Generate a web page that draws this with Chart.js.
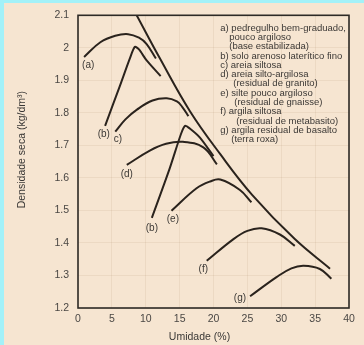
<!DOCTYPE html>
<html><head><meta charset="utf-8">
<script src="https://cdn.jsdelivr.net/npm/chart.js@4"></script>
<style>
html,body{margin:0;padding:0;background:#A3F1F8;}
#wrap{position:absolute;left:0;top:0;width:364px;height:345px;}
canvas{display:block;}
</style></head><body>
<div id="wrap"><canvas id="c" width="364" height="345"></canvas></div>
<script>
// ---- data ----
const xTickValues = [0, 5, 10, 15, 20, 25, 30, 35, 40];
const yTickValues = [1.2, 1.3, 1.4, 1.5, 1.6, 1.7, 1.8, 1.9, 2.0, 2.1];

const aX = [0.9, 3.3, 5.5, 7.4, 9.0, 10.1, 11.5];
const aY = [1.972, 2.017, 2.037, 2.042, 2.031, 2.012, 1.967];

const b1X = [4.0, 6.2, 7.7, 8.4, 9.0, 10.1, 12.2];
const b1Y = [1.760, 1.884, 1.970, 2.003, 1.995, 1.962, 1.913];

const cX = [5.5, 7.0, 8.7, 11.0, 13.1, 14.6, 15.4, 16.3];
const cY = [1.742, 1.780, 1.810, 1.838, 1.845, 1.835, 1.818, 1.790];

const b2X = [10.9, 13.5, 15.2, 15.8, 16.5, 18.0, 20.0];
const b2Y = [1.477, 1.627, 1.735, 1.760, 1.752, 1.724, 1.667];

const dX = [7.2, 10.6, 13.0, 15.5, 18.5, 20.5];
const dY = [1.640, 1.684, 1.705, 1.711, 1.694, 1.642];

const eX = [13.8, 17.5, 19.5, 21.0, 23.9, 25.6];
const eY = [1.499, 1.568, 1.589, 1.595, 1.563, 1.525];

const fX = [19.0, 22.9, 25.0, 27.1, 29.8, 32.0];
const fY = [1.345, 1.411, 1.437, 1.445, 1.426, 1.391];

const gX = [25.4, 29.3, 31.5, 33.3, 35.7, 37.4];
const gY = [1.236, 1.295, 1.322, 1.330, 1.320, 1.290];

const satX = [8.66, 12.1, 16.5, 21.0, 25.7, 32.0, 37.2];
const satY = [2.10, 1.967, 1.806, 1.673, 1.548, 1.412, 1.321];

const curveLabels = ["(a)", "(b)", "c)", "(d)", "(b)", "(e)", "(f)", "(g)"];
const curveLabelX = [1.5, 3.8, 5.9, 7.2, 10.9, 14.0, 18.5, 23.9];
const curveLabelY = [1.945, 1.733, 1.718, 1.612, 1.445, 1.473, 1.318, 1.230];

const legendLines = [
  "a) pedregulho bem-graduado,",
  "pouco argiloso",
  "(base estabilizada)",
  "b) solo arenoso laterítico fino",
  "c) areia siltosa",
  "d) areia silto-argilosa",
  "(residual de granito)",
  "e) silte pouco argiloso",
  "(residual de gnaisse)",
  "f) argila siltosa",
  "(residual de metabasito)",
  "g) argila residual de basalto",
  "(terra roxa)"
];
const legendIndent = [0, 9, 9, 0, 0, 0, 13, 0, 14, 0, 16, 0, 11];

const xTitle = "Umidade (%)";
const yTitle = "Densidade seca (kg/dm\u00B3)";

// ---- build datasets ----
const toPts = (xs, ys) => xs.map((x, i) => ({x: x, y: ys[i]}));
const LINE = '#2a231d';
const mk = (xs, ys, t) => ({
  data: toPts(xs, ys), showLine: true, borderColor: LINE, borderWidth: 2,
  pointRadius: 0, tension: t, fill: false
});
const datasets = [
  mk(aX, aY, 0.4), mk(b1X, b1Y, 0.25), mk(cX, cY, 0.4), mk(b2X, b2Y, 0.25),
  mk(dX, dY, 0.4), mk(eX, eY, 0.4), mk(fX, fY, 0.4), mk(gX, gY, 0.4),
  mk(satX, satY, 0.4)
];

const FONT = '"Liberation Sans", Arial, sans-serif';

const deco = {
  id: 'deco',
  beforeDraw(chart) {
    const ctx = chart.ctx;
    ctx.save();
    ctx.fillStyle = '#F6E5D1';
    ctx.fillRect(4, 3, chart.width - 4, chart.height - 3);
    ctx.restore();
  },
  afterDatasetsDraw(chart) {
    const ctx = chart.ctx, a = chart.chartArea;
    ctx.save();
    ctx.strokeStyle = '#2d2a26';
    ctx.lineWidth = 1.6;
    ctx.strokeRect(a.left, a.top, a.right - a.left, a.bottom - a.top);
    ctx.restore();
  },
  afterDraw(chart) {
    const ctx = chart.ctx, a = chart.chartArea;
    const xs = chart.scales.x, ys = chart.scales.y;
    ctx.save();
    ctx.fillStyle = '#3b3835';
    ctx.textBaseline = 'middle';
    ctx.textAlign = 'center';
    ctx.font = '10px ' + FONT;
    curveLabels.forEach((t, i) => {
      ctx.fillText(t, xs.getPixelForValue(curveLabelX[i]), ys.getPixelForValue(curveLabelY[i]));
    });
    // legend block
    ctx.textAlign = 'left';
    ctx.font = '9.5px ' + FONT;
    const lx = xs.getPixelForValue(21.0), ly = ys.getPixelForValue(2.061);
    legendLines.forEach((t, i) => {
      ctx.fillText(t, lx + legendIndent[i], ly + i * 9.31);
    });
    // axis titles
    ctx.fillStyle = '#3a3836';
    ctx.font = '10.5px ' + FONT;
    ctx.textAlign = 'center';
    ctx.fillText(xTitle, (a.left + a.right) / 2 - 14, 337);
    ctx.translate(22, (a.top + a.bottom) / 2 - 12);
    ctx.rotate(-Math.PI / 2);
    ctx.fillText(yTitle, 0, 0);
    ctx.restore();
  }
};

new Chart(document.getElementById('c'), {
  type: 'scatter',
  data: { datasets: datasets },
  options: {
    responsive: false,
    animation: false,
    layout: { padding: { left: 0, top: 11, right: 15, bottom: 0 } },
    plugins: { legend: { display: false }, tooltip: { enabled: false }, title: { display: false } },
    scales: {
      x: {
        type: 'linear', min: 0, max: 40,
        afterBuildTicks: s => { s.ticks = xTickValues.map(v => ({value: v})); },
        afterFit: s => { s.height = 37; },
        grid: { color: 'rgba(150,120,80,0.10)', drawTicks: false },
        border: { display: false },
        ticks: { color: '#4a4744', font: { size: 10.5, family: FONT }, padding: 5, maxRotation: 0,
                 callback: v => String(v) }
      },
      y: {
        type: 'linear', min: 1.2, max: 2.1,
        afterBuildTicks: s => { s.ticks = yTickValues.map(v => ({value: v})); },
        afterFit: s => { s.width = 78; },
        grid: { color: 'rgba(150,120,80,0.10)', drawTicks: false },
        border: { display: false },
        ticks: { color: '#4a4744', font: { size: 10.5, family: FONT }, padding: 9,
                 callback: v => String(Math.round(v * 10) / 10) }
      }
    }
  },
  plugins: [deco]
});
</script>
</body></html>
